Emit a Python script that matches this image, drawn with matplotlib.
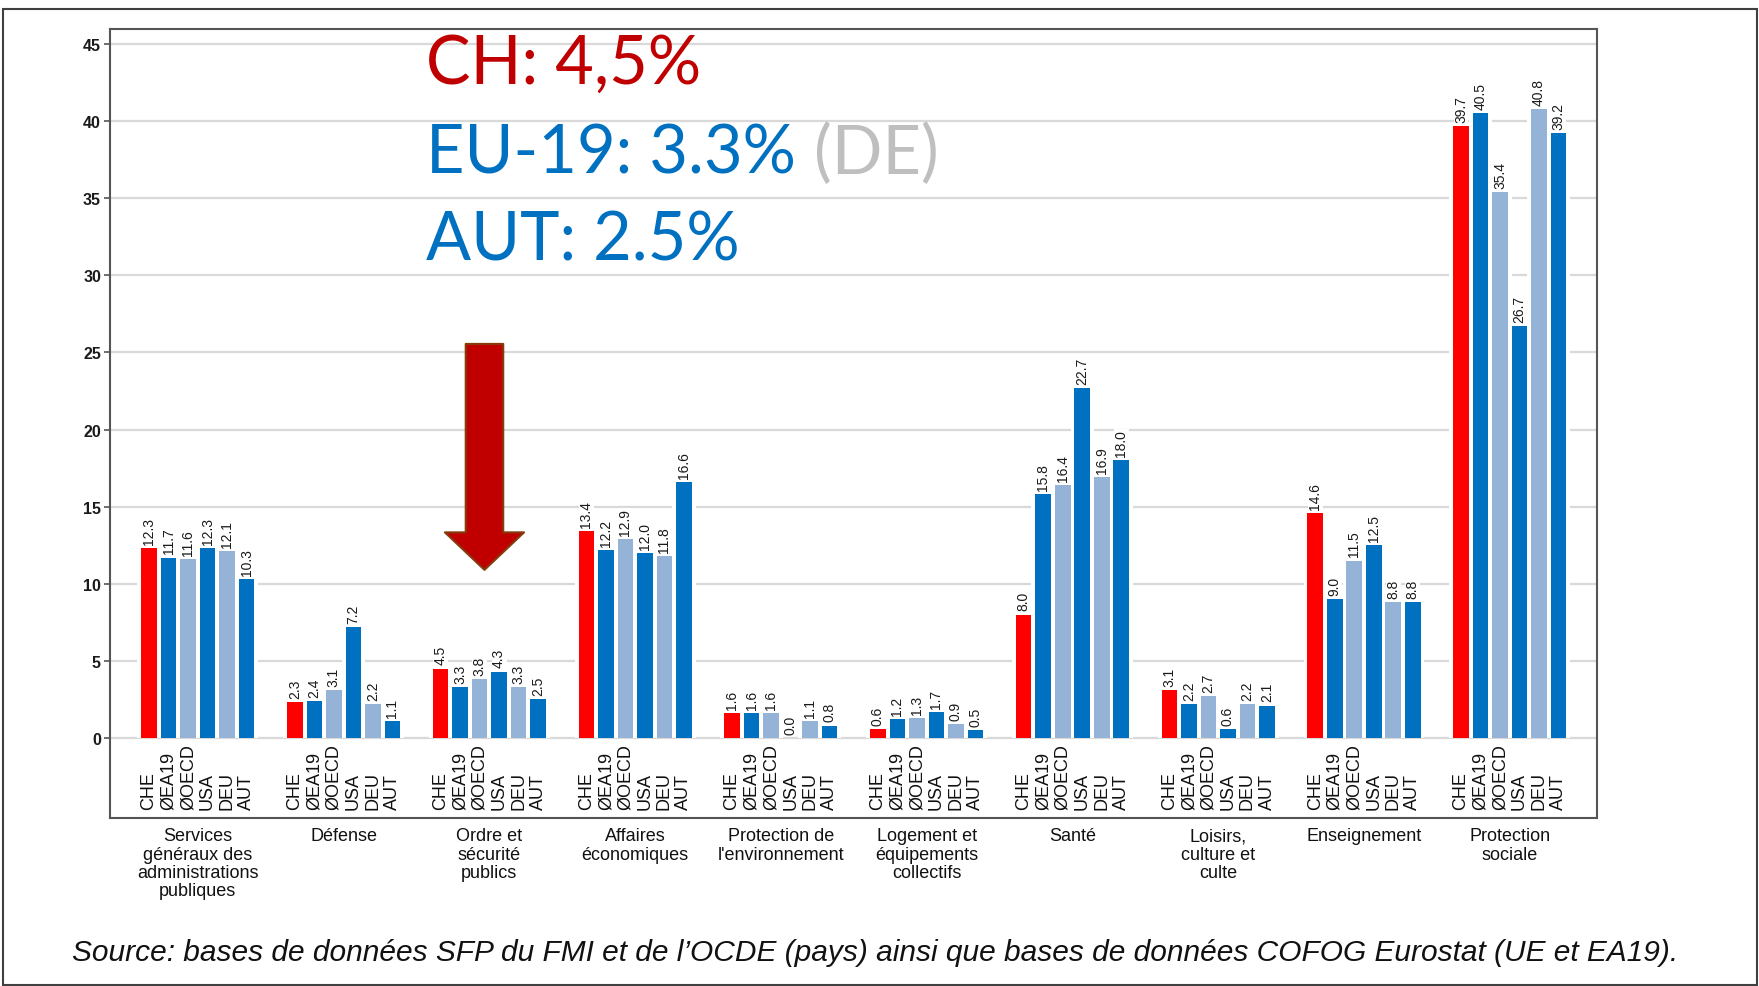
import numpy as np
import matplotlib.pyplot as plt
from matplotlib.patches import Rectangle
from matplotlib.transforms import blended_transform_factory

plt.rcParams['font.family'] = ['Liberation Sans', 'DejaVu Sans']

## DATA

categories = ["Services\ngénéraux des\nadministrations\npubliques", "Défense",
              "Ordre et\nsécurité\npublics", "Affaires\néconomiques",
              "Protection de\nl'environnement", "Logement et\néquipements\ncollectifs",
              "Santé", "Loisirs,\nculture et\nculte", "Enseignement", "Protection\nsociale"]
countries = ["CHE", "ØEA19", "ØOECD", "USA", "DEU", "AUT"]

che = [12.3, 2.3, 4.5, 13.4, 1.6, 0.6, 8.0, 3.1, 14.6, 39.7]
ea19 = [11.7, 2.4, 3.3, 12.2, 1.6, 1.2, 15.8, 2.2, 9.0, 40.5]
oecd = [11.6, 3.1, 3.8, 12.9, 1.6, 1.3, 16.4, 2.7, 11.5, 35.4]
usa = [12.3, 7.2, 4.3, 12.0, 0.0, 1.7, 22.7, 0.6, 12.5, 26.7]
deu = [12.1, 2.2, 3.3, 11.8, 1.1, 0.9, 16.9, 2.2, 8.8, 40.8]
aut = [10.3, 1.1, 2.5, 16.6, 0.8, 0.5, 18.0, 2.1, 8.8, 39.2]

series = [che, ea19, oecd, usa, deu, aut]
colors = ["#FF0000", "#0070C0", "#95B3D7", "#0070C0", "#95B3D7", "#0070C0"]

highlight = [("CH: 4,5%", "#C00000"), ("EU-19: 3.3%", "#0070C0"), ("AUT: 2.5%", "#0070C0")]
source = "Source: bases de données SFP du FMI et de l’OCDE (pays) ainsi que bases de données COFOG Eurostat (UE et EA19)."

## PLOT

W, H = 1759, 987
fig = plt.figure(figsize=(W / 100, H / 100), dpi=100)
ax = fig.add_axes([110 / W, 168 / H, 1487 / W, 789 / H])

group_step = 7.47
ng = len(categories)

for i, (name, vals, col) in enumerate(zip(countries, series, colors)):
    x = np.arange(ng) * group_step + i
    ax.bar(x, vals, width=1.2, color="white", zorder=2)
    ax.bar(x, vals, width=0.8, color=col, zorder=3)
    for xi, v in zip(x, vals):
        ax.annotate(f"{v:.1f}", (xi, v), xytext=(0, 3), textcoords="offset points",
                    rotation=90, ha="center", va="bottom", fontsize=10, color="#1a1a1a",
                    bbox=dict(fc="white", ec="none", pad=0.3), zorder=4)
        ax.text(xi, -4.6, name, rotation=90, ha="center", va="bottom",
                fontsize=13, color="#111111", zorder=4)

trans = blended_transform_factory(ax.transData, ax.transAxes)
for g, cat in enumerate(categories):
    ax.text(g * group_step + 2.5, -0.012, cat, transform=trans, ha="center", va="top",
            fontsize=13, linespacing=1.1, color="#111111")

ax.set_xlim(-2.0, 74.2)
ax.set_ylim(-5.19, 45.97)
ax.set_yticks(range(0, 46, 5))
ax.set_xticks([])
ax.grid(axis="y", color="#D9D9D9", lw=1.6)
ax.set_axisbelow(True)
ax.tick_params(axis="y", length=4.5, width=1.2, color="#555555", labelsize=11.5,
               labelcolor="#1a1a1a", pad=2)
for lab in ax.get_yticklabels():
    lab.set_fontweight("bold")
for sp in ax.spines.values():
    sp.set_color("#555555")
    sp.set_linewidth(1.5)

# arrow pointing at "Ordre et sécurité publics"
xa = 2 * group_step + 2.5 - 0.25
ax.annotate("", xy=(xa, 10.9), xytext=(xa, 25.55),
            arrowprops=dict(arrowstyle="simple,head_width=57,tail_width=27,head_length=27",
                            mutation_scale=1, fc="#C00000", ec="#843C0C", lw=1.5,
                            shrinkA=0, shrinkB=0), zorder=5)

# big highlight text
ys = [1 - 84 / H, 1 - 174 / H, 1 - 261 / H]
texts = []
for (txt, col), y in zip(highlight, ys):
    t = fig.text(426 / W, y, txt, color=col, fontsize=48, family=["Lato", "DejaVu Sans"],
                 va="baseline")
    texts.append(t)
fig.canvas.draw()
ax.annotate("(DE)", xy=(1, 0), xycoords=texts[1], xytext=(13, 0), textcoords="offset points",
            va="bottom", ha="left", color="#BFBFBF", fontsize=48,
            family=["Lato", "DejaVu Sans"], annotation_clip=False)

fig.text(72 / W, 1 - 953 / H, source, fontsize=21.5, style="italic", va="center",
         color="#111111")

fig.add_artist(Rectangle((3 / W, 1 / H), 1754 / W, 976 / H, transform=fig.transFigure,
                         fill=False, ec="#404040", lw=1.5))

fig.savefig("out.png", dpi=100)
